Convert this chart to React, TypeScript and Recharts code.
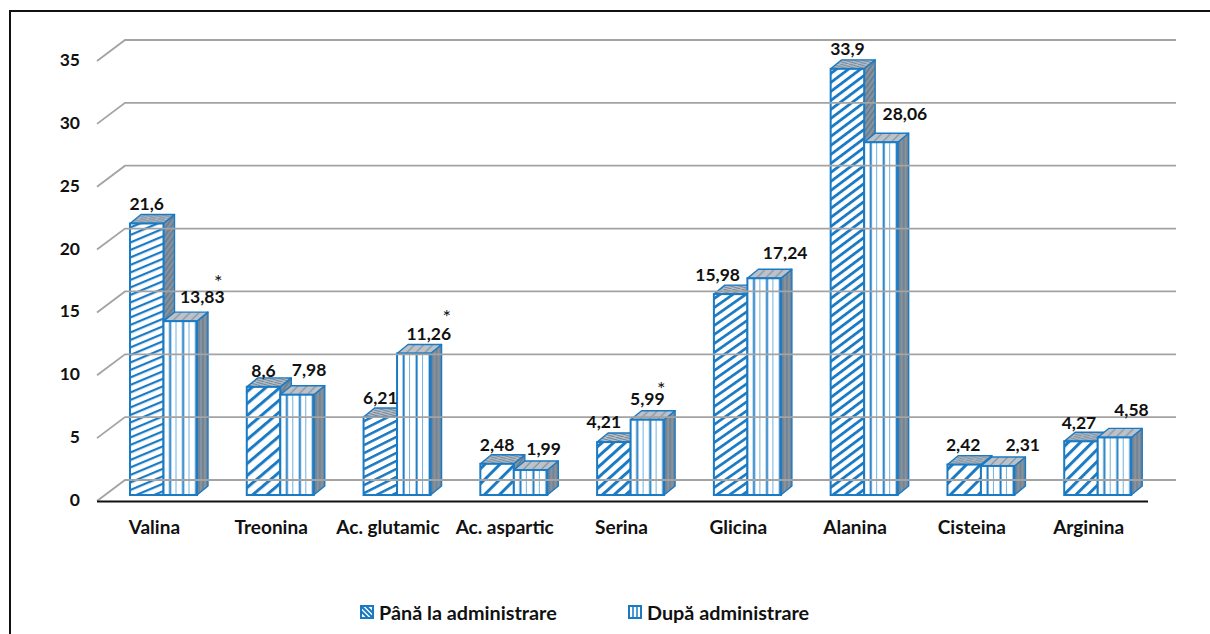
import { Bar, BarChart, LabelList, Legend, XAxis, YAxis } from 'recharts'

const categories = ['Valina', 'Treonina', 'Ac. glutamic', 'Ac. aspartic', 'Serina', 'Glicina', 'Alanina', 'Cisteina', 'Arginina']
const beforeValues = [21.6, 8.6, 6.21, 2.48, 4.21, 15.98, 33.9, 2.42, 4.27]
const afterValues = [13.83, 7.98, 11.26, 1.99, 5.99, 17.24, 28.06, 2.31, 4.58]
const yTicks = [0, 5, 10, 15, 20, 25, 30, 35]

const rows = categories.map((category, i) => ({
  category,
  before: beforeValues[i],
  after: afterValues[i],
}))

// hand-placed data labels, [dx, dy] from the centre of the bar's top edge
const beforeLabelShift = [[0, -19], [0, -16], [0, -19], [0, -19], [-10, -20], [-13, -19], [0, -20], [-1, -20], [-2, -18]]
const afterLabelShift = [[22, -24], [12, -25], [15, -19], [13, -21], [0, -21], [21, -25], [24, -28], [25, -21], [17, -27]]
const significantAfter = ['Valina', 'Ac. glutamic', 'Serina']
const starShift = [[16, -20], [18, -22], [14, -15]]

// the diagonal hatch is stretched differently on every column
const diagonalHatch = [
  { rise: 0.42, period: 7.5, weight: 2.2 },
  { rise: 0.85, period: 12, weight: 3 },
  { rise: 0.5, period: 8, weight: 2.5 },
  { rise: 1, period: 15, weight: 3 },
  { rise: 0.9, period: 10.5, weight: 3 },
  { rise: 0.7, period: 9, weight: 2.7 },
  { rise: 0.75, period: 9, weight: 2.8 },
  { rise: 1, period: 14, weight: 3 },
  { rise: 1, period: 12, weight: 3 },
]

const BLUE = '#1a7ac4'
const GRID = '#a3a3a3'
const INK = '#111111'
const FONT = 'Lato, sans-serif'
const DEPTH_X = 11
const DEPTH_Y = 9

function Column(props: any) {
  const { x, y, width, height, index, kind } = props
  const hatch = diagonalHatch[index]
  const id = `${kind}-${index}`
  const diagonal = kind === 'before'
  const bottom = y + height
  const right = x + width
  const angle = (Math.atan(hatch.rise) * 180) / Math.PI
  const spacing = hatch.period * Math.cos(Math.atan(hatch.rise))
  return (
    <g>
      <defs>
        {diagonal ? (
          <pattern
            id={`front-${id}`}
            patternUnits="userSpaceOnUse"
            width={20}
            height={spacing}
            patternTransform={`translate(${x} ${y + 3}) rotate(${-angle})`}
          >
            <rect width={20} height={spacing} fill="#ffffff" />
            <rect width={20} height={hatch.weight} fill={BLUE} />
          </pattern>
        ) : (
          <pattern id={`front-${id}`} patternUnits="userSpaceOnUse" x={x} y={y} width={13} height={13}>
            <rect width={13} height={13} fill="#ffffff" />
            <rect x={5.6} width={2} height={13} fill={BLUE} />
            <rect x={12.2} width={1.6} height={13} fill="#4f9ed8" />
          </pattern>
        )}
        <pattern id={`side-${id}`} patternUnits="userSpaceOnUse" x={right} y={y} width={diagonal ? 5 : 4} height={diagonal ? 7 : 10}>
          <rect width={5} height={10} fill="#87929c" />
          {diagonal ? (
            <path d="M-5 7L0 0M0 7L5 0M5 7L10 0" stroke="#54748f" strokeWidth={1.1} />
          ) : (
            <line x1={2} x2={2} y1={0} y2={10} stroke="#63798d" strokeWidth={1.1} />
          )}
        </pattern>
        <pattern id={`top-${id}`} patternUnits="userSpaceOnUse" x={x} y={y} width={9} height={diagonal ? 5 : 9}>
          <rect width={9} height={9} fill="#bcc2c8" />
          {diagonal ? (
            <path d="M0 0L9 2.5M0 2.5L9 5M-9 0L9 5" stroke="#6b8298" strokeWidth={1.2} />
          ) : (
            <path d="M-9 9L0 0M0 9L9 0M9 9L18 0" stroke="#7d8e9e" strokeWidth={1.2} />
          )}
        </pattern>
      </defs>
      <polygon
        points={`${right},${y} ${right + DEPTH_X},${y - DEPTH_Y} ${right + DEPTH_X},${bottom - DEPTH_Y} ${right},${bottom}`}
        fill={`url(#side-${id})`}
        stroke={BLUE}
        strokeWidth={1.4}
        strokeLinejoin="round"
      />
      <polygon
        points={`${x},${y} ${x + DEPTH_X},${y - DEPTH_Y} ${right + DEPTH_X},${y - DEPTH_Y} ${right},${y}`}
        fill={`url(#top-${id})`}
        stroke={BLUE}
        strokeWidth={1.4}
        strokeLinejoin="round"
      />
      <rect x={x} y={y} width={width} height={height} fill={`url(#front-${id})`} stroke={BLUE} strokeWidth={2} />
    </g>
  )
}

// y axis tick: the number plus the wall and back grid line for that value
function WallTick({ y, payload }: any) {
  return (
    <g>
      <polyline points={`97,${y + 6} 125,${y - 15} 1176,${y - 15}`} fill="none" stroke={GRID} strokeWidth={1.8} />
      {payload.value === 0 && <line x1={97} x2={1148} y1={y + 6.5} y2={y + 6.5} stroke={INK} strokeWidth={1.8} />}
      <text x={80} y={y + 11} textAnchor="end" fontFamily={FONT} fontWeight={700} fontSize={17.5} fill={INK}>
        {payload.value}
      </text>
    </g>
  )
}

function makeValueLabel(shifts: number[][], withStars: boolean) {
  return function ValueLabel({ x, y, width, value, index }: any) {
    const [dx, dy] = shifts[index]
    const cx = x + width / 2 + dx
    const cy = y + dy
    const starIndex = withStars ? significantAfter.indexOf(categories[index]) : -1
    return (
      <g>
        <text x={cx} y={cy + 6} textAnchor="middle" fontFamily={FONT} fontWeight={700} fontSize={17.5} fill={INK}>
          {String(value).replace('.', ',')}
        </text>
        {starIndex >= 0 && (
          <text x={cx + starShift[starIndex][0]} y={cy + starShift[starIndex][1] + 12} textAnchor="middle" fontFamily={FONT} fontSize={20} fill={INK}>
            *
          </text>
        )}
      </g>
    )
  }
}

function LegendRow({ payload }: any) {
  return (
    <div style={{ display: 'flex', fontFamily: FONT, fontWeight: 700, fontSize: 19.8, color: INK, lineHeight: '20px' }}>
      {payload.map((entry: any, i: number) => (
        <div key={entry.value} style={{ display: 'flex', alignItems: 'center', width: 268 }}>
          <svg width={14} height={14} style={{ marginRight: 5 }}>
            <rect x={1} y={1} width={12} height={12} fill="#ffffff" stroke={BLUE} strokeWidth={2} />
            {i === 0 ? (
              <path d="M1 1L13 13M1 6L8 13M6 1L13 8" stroke={BLUE} strokeWidth={2.2} />
            ) : (
              <path d="M5 1V13M9 1V13" stroke={BLUE} strokeWidth={1.5} />
            )}
          </svg>
          <span>{entry.value}</span>
        </div>
      ))}
    </div>
  )
}

export default function App() {
  return (
    <div style={{ position: 'absolute', left: 0, top: 0, width: 1210, height: 634, overflow: 'hidden', background: '#ffffff' }}>
      <div style={{ position: 'absolute', left: 9, top: 10, right: -4, bottom: -4, borderTop: `2px solid ${INK}`, borderLeft: `2px solid ${INK}` }} />
      <BarChart
        width={1210}
        height={634}
        data={rows}
        barSize={33.5}
        barGap={0}
        margin={{ top: 55, right: 54, bottom: 109, left: 75 }}
        style={{ position: 'absolute', left: 0, top: 0 }}
      >
        <YAxis width={30} domain={[0, 35]} ticks={yTicks} interval={0} axisLine={false} tickLine={false} tick={<WallTick />} />
        <XAxis
          dataKey="category"
          height={30}
          interval={0}
          axisLine={false}
          tickLine={false}
          tickMargin={20}
          tick={{ dx: -9, fontFamily: FONT, fontWeight: 700, fontSize: 19, fill: INK }}
        />
        <Legend
          content={<LegendRow />}
          layout="horizontal"
          verticalAlign="middle"
          itemSorter={null}
          wrapperStyle={{ left: 360, top: 602, width: 560 }}
        />
        <Bar dataKey="before" name="Până la administrare" isAnimationActive={false} shape={(p: any) => <Column {...p} kind="before" />}>
          <LabelList dataKey="before" content={makeValueLabel(beforeLabelShift, false)} />
        </Bar>
        <Bar dataKey="after" name="După administrare" isAnimationActive={false} shape={(p: any) => <Column {...p} kind="after" />}>
          <LabelList dataKey="after" content={makeValueLabel(afterLabelShift, true)} />
        </Bar>
      </BarChart>
    </div>
  )
}
